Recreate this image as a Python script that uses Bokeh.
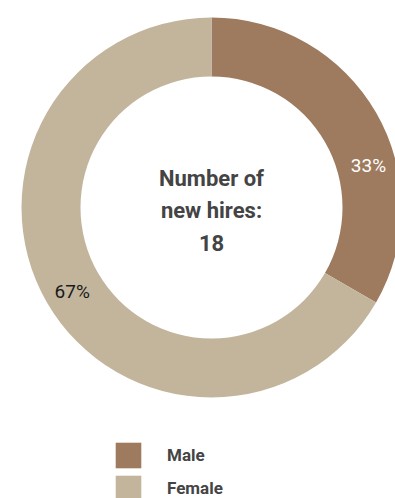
import math
from bokeh.plotting import figure
from bokeh.models import ColumnDataSource, Range1d, Legend, LegendItem
from bokeh.core.properties import value
from bokeh.embed import file_html
from bokeh.resources import INLINE

categories = ["Male", "Female"]
counts = [6, 12]
colors = ["#9E7B5E", "#C3B59C"]
label_colors = ["#FFFFFF", "#1A1A1A"]
label_angle_shift = [-15, 1]  # degrees shift of label from slice middle
center_lines = ["Number of", "new hires:", str(sum(counts))]

W, H = 395, 498
cx_px, cy_px = 211, 207  # donut centre in figure px from top-left
R_OUT, R_IN = 190, 131

p = figure(width=W, height=H, output_backend="svg", toolbar_location=None,
           x_range=Range1d(-cx_px, W - cx_px), y_range=Range1d(-(H - cy_px), cy_px),
           min_border=0, outline_line_color=None)
p.axis.visible = False
p.grid.visible = False
p.background_fill_color = "white"

total = sum(counts)
starts, ends, pcts, lx, ly = [], [], [], [], []
a = math.pi / 2
for i, c in enumerate(counts):
    span = 2 * math.pi * c / total
    starts.append(a)
    ends.append(a - span)
    mid = a - span / 2 + math.radians(label_angle_shift[i])
    rm = (R_OUT + R_IN) / 2 + 2
    lx.append(rm * math.cos(mid))
    ly.append(rm * math.sin(mid))
    pcts.append(f"{round(100 * c / total)}%")
    a -= span

src = ColumnDataSource(dict(cat=categories, start=starts, end=ends, color=colors,
                            pct=pcts, lx=lx, ly=ly, lc=label_colors))
r = p.annular_wedge(x=0, y=0, inner_radius=R_IN, outer_radius=R_OUT,
                    start_angle="start", end_angle="end", direction="clock",
                    fill_color="color", line_color=None, source=src)

p.text(x="lx", y="ly", text="pct", text_color="lc", source=src,
       text_font=value("Roboto"), text_font_size="19px",
       text_align="center", text_baseline="middle")

csrc = ColumnDataSource(dict(x=[0, 0, 0], y=[29, -3, -35], t=center_lines))
p.text(x="x", y="y", text="t", source=csrc, text_font=value("Roboto"),
       text_font_style="bold", text_font_size="22px", text_color="#444444",
       text_align="center", text_baseline="middle")

legend = Legend(items=[LegendItem(label=categories[i], renderers=[r], index=i) for i in range(2)],
                location=(112, -6), orientation="vertical",
                glyph_width=32, glyph_height=32, label_standoff=23, spacing=1,
                padding=0, margin=0, border_line_color=None, background_fill_alpha=0,
                label_text_font="Roboto", label_text_font_style="bold",
                label_text_font_size="17px", label_text_color="#444444",
                label_text_baseline="alphabetic", label_height=26)
p.add_layout(legend, "center")

open("out.html", "w").write(file_html(p, INLINE))
